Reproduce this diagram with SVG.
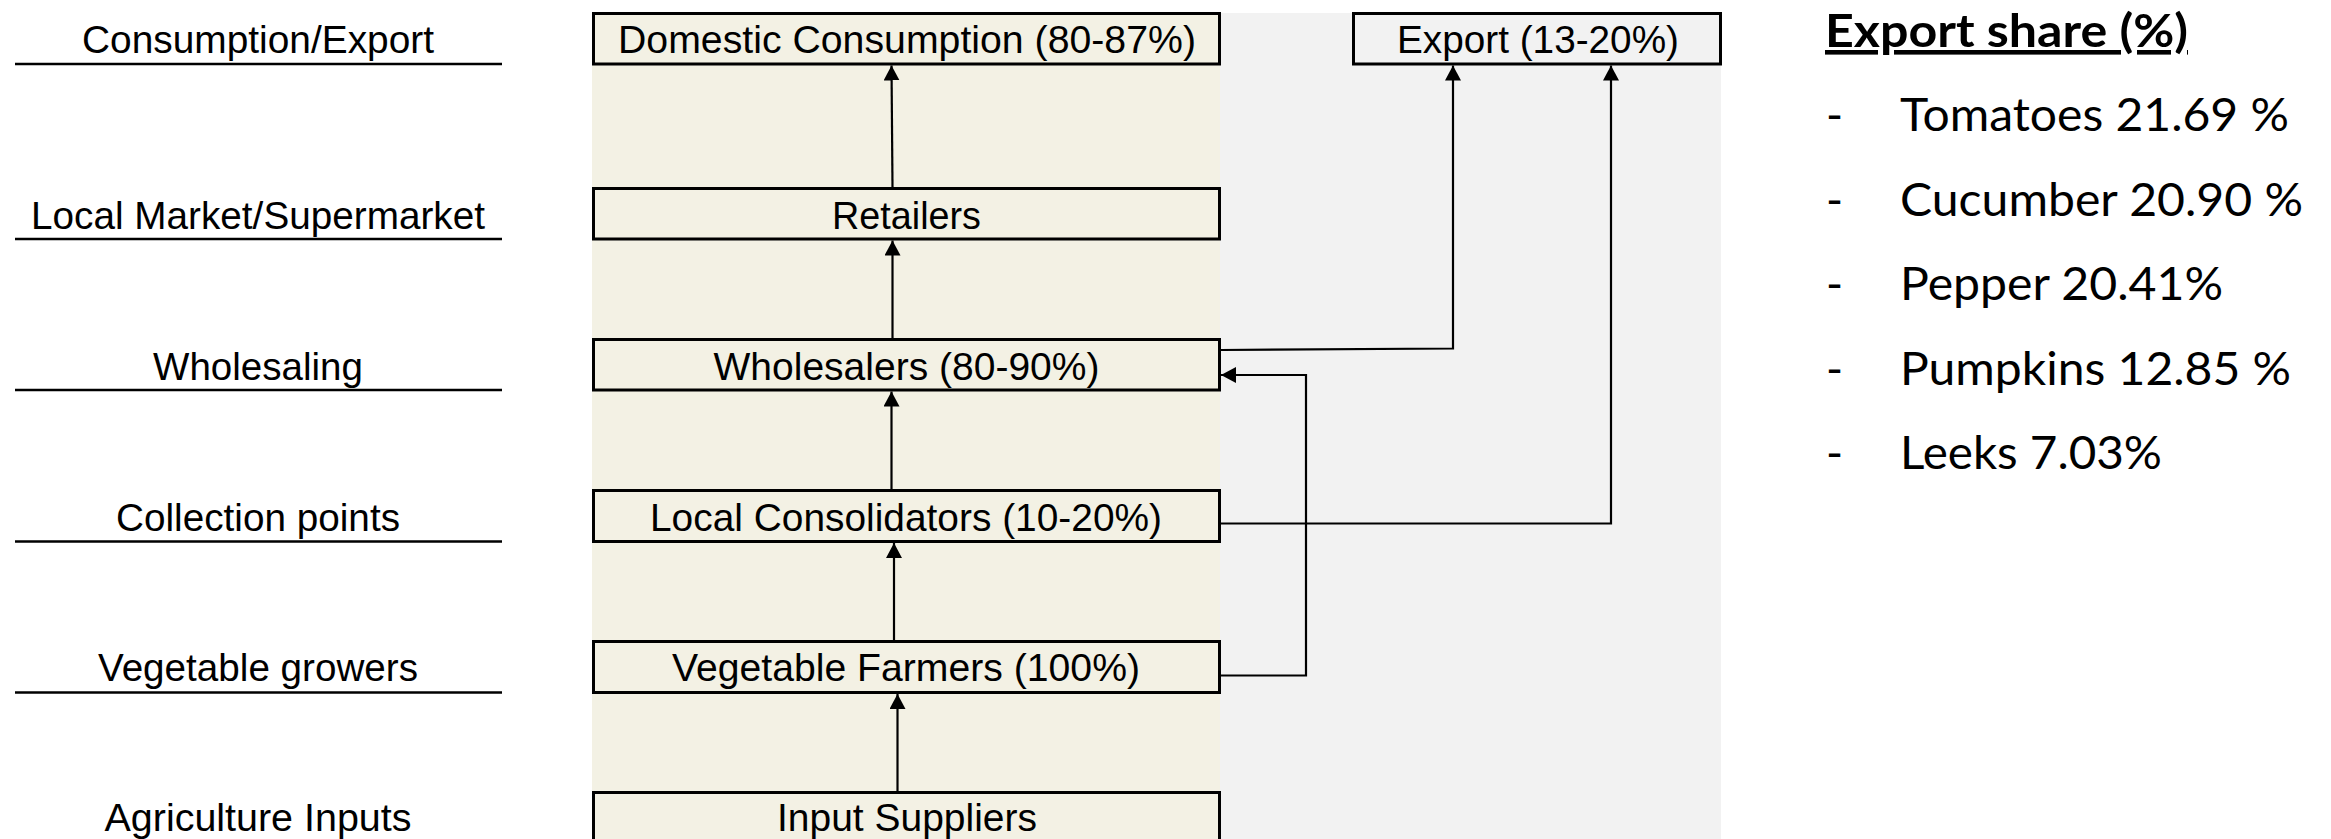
<svg xmlns="http://www.w3.org/2000/svg" width="2331" height="839" viewBox="0 0 2331 839">
<style>
.lbl{font-family:"Liberation Sans",Arial,sans-serif;font-size:39px;fill:#000;text-anchor:middle}
.box{stroke:#000;stroke-width:3}
.beige{fill:#f3f1e4}
.gray{fill:#f2f2f2}
.lane{stroke:#000;stroke-width:2.6}
.conn{fill:none;stroke:#000;stroke-width:2.2}
.side{font-family:Lato,"Open Sans",sans-serif;font-size:46px;fill:#000}
.head{font-family:Lato,"Open Sans",sans-serif;font-size:46px;font-weight:bold;fill:#000;text-decoration:underline}
</style>
<defs>
<marker id="arr" viewBox="0 0 15 16" refX="15" refY="8" markerWidth="15" markerHeight="16" markerUnits="userSpaceOnUse" orient="auto">
<path d="M0,0 L15,8 L0,16 z" fill="#000"/>
</marker>
</defs>
<rect width="2331" height="839" fill="#fff"/>
<g id="backgrounds">
<rect class="beige" x="592" y="13" width="628" height="826"/>
<rect class="gray" x="1220" y="13" width="501" height="826"/>
</g>
<g id="lanes">
<line class="lane" x1="15" y1="64" x2="502" y2="64"/>
<text class="lbl" x="258" y="53" textLength="352" lengthAdjust="spacingAndGlyphs">Consumption/Export</text>
<line class="lane" x1="15" y1="239" x2="502" y2="239"/>
<text class="lbl" x="258" y="228.5" textLength="454" lengthAdjust="spacingAndGlyphs">Local Market/Supermarket</text>
<line class="lane" x1="15" y1="390" x2="502" y2="390"/>
<text class="lbl" x="258" y="379.5" textLength="210" lengthAdjust="spacingAndGlyphs">Wholesaling</text>
<line class="lane" x1="15" y1="541.5" x2="502" y2="541.5"/>
<text class="lbl" x="258" y="530.5" textLength="284" lengthAdjust="spacingAndGlyphs">Collection points</text>
<line class="lane" x1="15" y1="692.5" x2="502" y2="692.5"/>
<text class="lbl" x="258" y="681" textLength="320" lengthAdjust="spacingAndGlyphs">Vegetable growers</text>
<text class="lbl" x="258" y="831" textLength="307" lengthAdjust="spacingAndGlyphs">Agriculture Inputs</text>
</g>
<g id="domestic">
<rect class="box beige" x="593.5" y="13.5" width="626" height="50.5"/>
<text class="lbl" x="907" y="53" textLength="578" lengthAdjust="spacingAndGlyphs">Domestic Consumption (80-87%)</text>
</g>
<g id="export">
<rect class="box gray" x="1353.5" y="13.5" width="367" height="50.5"/>
<text class="lbl" x="1538" y="53" textLength="282" lengthAdjust="spacingAndGlyphs">Export (13-20%)</text>
</g>
<g id="retailers">
<rect class="box beige" x="593.5" y="188.5" width="626" height="50.5"/>
<text class="lbl" x="906.5" y="228.5" textLength="149" lengthAdjust="spacingAndGlyphs">Retailers</text>
</g>
<g id="wholesalers">
<rect class="box beige" x="593.5" y="339.5" width="626" height="50.5"/>
<text class="lbl" x="906.5" y="379.5" textLength="386" lengthAdjust="spacingAndGlyphs">Wholesalers (80-90%)</text>
</g>
<g id="consolidators">
<rect class="box beige" x="593.5" y="490.5" width="626" height="51"/>
<text class="lbl" x="906" y="530.5" textLength="512" lengthAdjust="spacingAndGlyphs">Local Consolidators (10-20%)</text>
</g>
<g id="farmers">
<rect class="box beige" x="593.5" y="641.5" width="626" height="51"/>
<text class="lbl" x="906" y="681" textLength="468" lengthAdjust="spacingAndGlyphs">Vegetable Farmers (100%)</text>
</g>
<g id="inputs">
<rect class="box beige" x="593.5" y="792.5" width="626" height="60"/>
<text class="lbl" x="907" y="831" textLength="260" lengthAdjust="spacingAndGlyphs">Input Suppliers</text>
</g>
<g id="connectors">
<path class="conn" d="M892.5,187 L891.5,65.5" marker-end="url(#arr)"/>
<path class="conn" d="M892.5,338 L892.5,240.5" marker-end="url(#arr)"/>
<path class="conn" d="M891.5,489 L891.5,391.5" marker-end="url(#arr)"/>
<path class="conn" d="M894,640 L894,543" marker-end="url(#arr)"/>
<path class="conn" d="M897.5,791 L897.5,694" marker-end="url(#arr)"/>
<path class="conn" d="M1221,350 L1453,348.5 L1453,65.5" marker-end="url(#arr)"/>
<path class="conn" d="M1221,523.5 L1611,523.5 L1611,65.5" marker-end="url(#arr)"/>
<path class="conn" d="M1221,675.5 L1306,675.5 L1306,375 L1221,375" marker-end="url(#arr)"/>
</g>
<g id="export-share">
<text class="head" x="1825" y="47" textLength="363" lengthAdjust="spacingAndGlyphs">Export share (%)</text>
<text class="side" x="1826" y="131">-</text>
<text class="side" x="1900" y="131" textLength="389" lengthAdjust="spacingAndGlyphs">Tomatoes 21.69 %</text>
<text class="side" x="1826" y="215.5">-</text>
<text class="side" x="1900" y="215.5" textLength="403" lengthAdjust="spacingAndGlyphs">Cucumber 20.90 %</text>
<text class="side" x="1826" y="300">-</text>
<text class="side" x="1900" y="300" textLength="323" lengthAdjust="spacingAndGlyphs">Pepper 20.41%</text>
<text class="side" x="1826" y="384.5">-</text>
<text class="side" x="1900" y="384.5" textLength="391" lengthAdjust="spacingAndGlyphs">Pumpkins 12.85 %</text>
<text class="side" x="1826" y="469">-</text>
<text class="side" x="1900" y="469" textLength="262" lengthAdjust="spacingAndGlyphs">Leeks 7.03%</text>
</g>
</svg>
